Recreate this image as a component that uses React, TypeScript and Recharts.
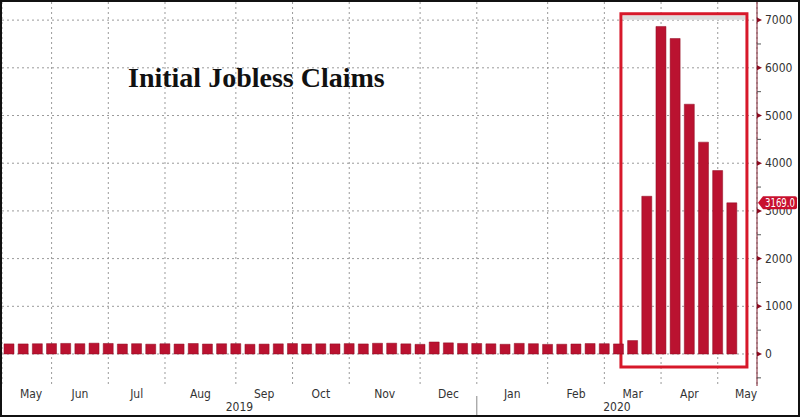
import { BarChart, Bar, XAxis, YAxis, CartesianGrid, ReferenceArea } from 'recharts'

// weekly initial jobless claims, thousands (week ending)
const weeks = [
    '2019-05-11', '2019-05-18', '2019-05-25', '2019-06-01', '2019-06-08', '2019-06-15', '2019-06-22', '2019-06-29',
    '2019-07-06', '2019-07-13', '2019-07-20', '2019-07-27', '2019-08-03', '2019-08-10', '2019-08-17', '2019-08-24',
    '2019-08-31', '2019-09-07', '2019-09-14', '2019-09-21', '2019-09-28', '2019-10-05', '2019-10-12', '2019-10-19',
    '2019-10-26', '2019-11-02', '2019-11-09', '2019-11-16', '2019-11-23', '2019-11-30', '2019-12-07', '2019-12-14',
    '2019-12-21', '2019-12-28', '2020-01-04', '2020-01-11', '2020-01-18', '2020-01-25', '2020-02-01', '2020-02-08',
    '2020-02-15', '2020-02-22', '2020-02-29', '2020-03-07', '2020-03-14', '2020-03-21', '2020-03-28', '2020-04-04',
    '2020-04-11', '2020-04-18', '2020-04-25', '2020-05-02',
]
const claims = [
    212, 211, 215, 218, 222, 216, 227, 221, 209, 216, 206, 215, 209, 220, 209, 215,
    217, 204, 208, 213, 219, 210, 214, 212, 218, 211, 225, 227, 213, 203, 252, 234,
    222, 220, 214, 204, 223, 216, 202, 205, 210, 219, 216, 211, 282, 3307, 6867, 6615,
    5237, 4442, 3846, 3169,
]

// axis labels
const monthStartWeeks = [
    '2019-06-01', '2019-06-29', '2019-07-27', '2019-08-31', '2019-09-28', '2019-10-26',
    '2019-11-30', '2019-12-28', '2020-02-01', '2020-02-29', '2020-03-28', '2020-04-25',
]
const monthNames = ['May', 'Jun', 'Jul', 'Aug', 'Sep', 'Oct', 'Nov', 'Dec', 'Jan', 'Feb', 'Mar', 'Apr', 'May']
const yearNames = ['2019', '2020']
const yearStartWeek = '2019-12-28'
const yMajor = [0, 1000, 2000, 3000, 4000, 5000, 6000, 7000]
const yMinor = [-500, 500, 1500, 2500, 3500, 4500, 5500, 6500]

const X_MIN = -0.5
const X_MAX = 52.77
const Y_MIN = -671
const Y_MAX = 7380

const data = weeks.map((week, i) => ({ i, week, claims: claims[i] }))
const lastClaims = claims[claims.length - 1]
const boundaries = monthStartWeeks.map(w => weeks.indexOf(w))
const monthMids = monthNames.map((_, k) => {
    const lo = k === 0 ? X_MIN + 0.6 : boundaries[k - 1]
    const hi = k < boundaries.length ? boundaries[k] : lo + 4
    return (lo + hi) / 2
})
const yearSplit = weeks.indexOf(yearStartWeek)
const yearTicks = [(X_MIN + yearSplit) / 2, yearSplit, (yearSplit + X_MAX) / 2]

const FONT = "'Liberation Sans Narrow', 'DejaVu Sans Condensed', 'Liberation Sans', sans-serif"
const RED = '#BA1230'

function RightTick(props: any) {
    const { x, y, payload } = props
    const v = payload.value
    if (v === lastClaims) {
        return (
            <g>
                <path
                    d={`M${x + 1},${y} L${x + 6},${y - 6.5} L${x + 38},${y - 6.5} Q${x + 40},${y - 6.5} ${x + 40},${y - 4.5} L${x + 40},${y + 4.5} Q${x + 40},${y + 6.5} ${x + 38},${y + 6.5} L${x + 6},${y + 6.5} Z`}
                    fill="#C8102E"
                />
                <text
                    x={x + 8}
                    y={y}
                    dy={4}
                    fill="#fff"
                    fontSize={11.5}
                    fontFamily={FONT}
                    textLength={30}
                    lengthAdjust="spacingAndGlyphs"
                >
                    {v.toFixed(1)}
                </text>
            </g>
        )
    }
    if (yMajor.includes(v)) {
        return (
            <g>
                <polygon points={`${x},${y - 2.5} ${x + 5},${y} ${x},${y + 2.5}`} fill="#8a0a1e" />
                <text x={x + 8} y={y} dy={4} fill="#333" fontSize={12} fontFamily={FONT}>
                    {v}
                </text>
            </g>
        )
    }
    return <line x1={x} x2={x + 4} y1={y} y2={y} stroke="#555" />
}

function YearTick(props: any) {
    const { x, y, index } = props
    if (index === 1) {
        return <line x1={x} x2={x} y1={y - 6} y2={y + 14} stroke="#888" />
    }
    return (
        <text x={x} y={y} dy="0.71em" textAnchor="middle" fill="#333" fontSize={12} fontFamily={FONT}>
            {yearNames[index === 0 ? 0 : 1]}
        </text>
    )
}

export default function App() {
    return (
        <div style={{ position: 'absolute', left: 0, top: 0, width: 800, height: 417, background: '#fff' }}>
            <BarChart width={800} height={417} data={data} margin={{ top: 2, right: 0, bottom: 2, left: 2 }}>
                <CartesianGrid stroke="#9a9a9a" strokeDasharray="2 3" horizontalValues={yMajor} />
                <XAxis
                    xAxisId={0}
                    dataKey="i"
                    type="number"
                    domain={[X_MIN, X_MAX]}
                    allowDataOverflow
                    ticks={boundaries}
                    interval={0}
                    height={0}
                    tickSize={4}
                    tickFormatter={() => ''}
                    stroke="#666"
                    tickLine={{ stroke: '#444' }}
                />
                <XAxis
                    xAxisId="m"
                    dataKey="i"
                    type="number"
                    domain={[X_MIN, X_MAX]}
                    allowDataOverflow
                    ticks={monthMids}
                    interval={0}
                    height={14}
                    axisLine={false}
                    tickLine={false}
                    tickSize={0}
                    tickMargin={3}
                    tickFormatter={(v: number) => monthNames[monthMids.indexOf(v)]}
                    tick={{ fill: '#333', fontSize: 12, fontFamily: FONT }}
                />
                <XAxis
                    xAxisId="y"
                    dataKey="i"
                    type="number"
                    domain={[X_MIN, X_MAX]}
                    allowDataOverflow
                    ticks={yearTicks}
                    interval={0}
                    height={15}
                    axisLine={false}
                    tickLine={false}
                    tickSize={0}
                    tickMargin={2}
                    tick={<YearTick />}
                />
                <YAxis
                    orientation="right"
                    domain={[Y_MIN, Y_MAX]}
                    allowDataOverflow
                    ticks={[...yMinor, ...yMajor, lastClaims]}
                    interval={0}
                    width={43}
                    tickSize={0}
                    tickMargin={0}
                    tickLine={false}
                    stroke="#7a1a2a"
                    tick={<RightTick />}
                />
                <Bar dataKey="claims" barSize={10} fill={RED} stroke="#8e0c22" strokeWidth={0.5} isAnimationActive={false} />
                <ReferenceArea x1={43.3} x2={51.95} y1={7010} y2={7095} fill="#dcdcdc" fillOpacity={1} stroke="none" ifOverflow="visible" />
                <ReferenceArea x1={43.17} x2={52.06} y1={-272} y2={7134} fill="none" stroke="#D7182A" strokeWidth={3} ifOverflow="visible" />
            </BarChart>
            <div
                style={{
                    position: 'absolute',
                    left: 128,
                    top: 64,
                    fontFamily: "'Liberation Serif', serif",
                    fontWeight: 'bold',
                    fontSize: 28,
                    lineHeight: 1,
                    color: '#111',
                    whiteSpace: 'nowrap',
                }}
            >
                Initial Jobless Claims
            </div>
            <div style={{ position: 'absolute', inset: 0, border: '2px solid #111', pointerEvents: 'none' }} />
        </div>
    )
}
